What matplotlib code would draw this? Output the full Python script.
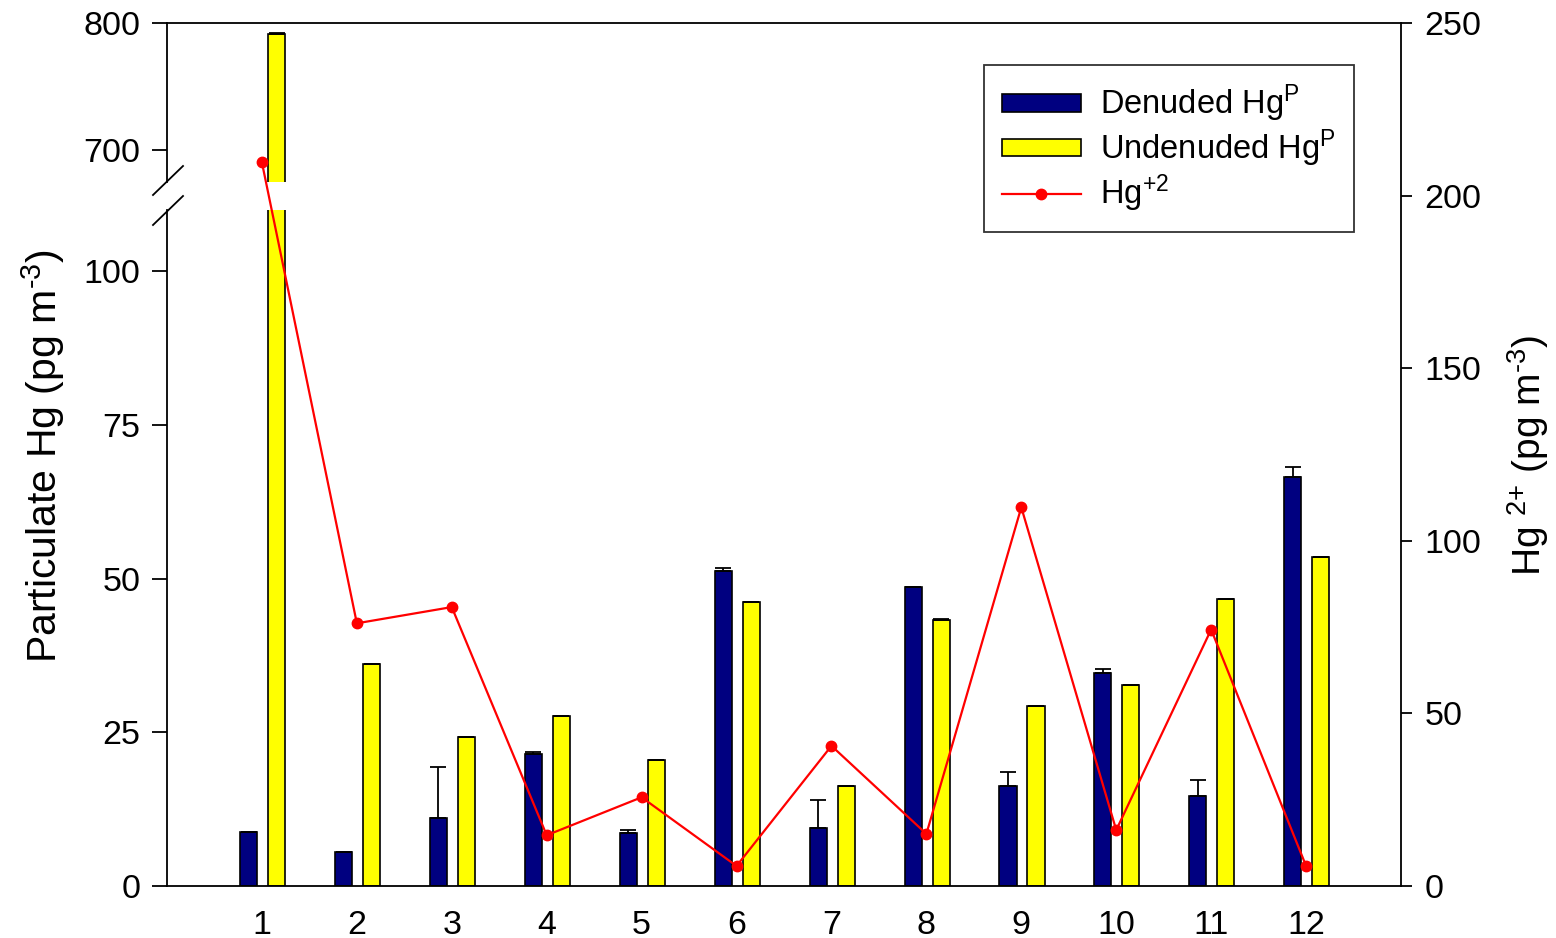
import matplotlib
matplotlib.use("Agg")
import matplotlib.pyplot as plt
import numpy as np
from matplotlib.lines import Line2D

plt.rcParams['font.family'] = ['Liberation Sans', 'DejaVu Sans']
plt.rcParams['mathtext.fontset'] = 'custom'
plt.rcParams['mathtext.rm'] = 'Liberation Sans'
plt.rcParams['mathtext.default'] = 'regular'

# monthly samples
samples = [1, 2, 3, 4, 5, 6, 7, 8, 9, 10, 11, 12]
denuded = [8.8, 5.6, 11.0, 21.5, 8.6, 51.3, 9.4, 48.6, 16.3, 34.6, 14.7, 66.6]
denuded_err = [0, 0, 8.3, 0.3, 0.5, 0.4, 4.6, 0, 2.2, 0.7, 2.6, 1.5]
undenuded = [791.5, 36.2, 24.2, 27.7, 20.5, 46.2, 16.3, 43.3, 29.3, 32.7, 46.7, 53.5]
undenuded_err = [0.6, 0, 0, 0, 0, 0, 0, 0.2, 0, 0, 0, 0]
hg2 = [209.6, 76.1, 80.8, 14.7, 25.7, 5.8, 40.6, 15.1, 109.7, 16.2, 74.3, 5.8]

W, H = 1556, 938
fig = plt.figure(figsize=(W / 100, H / 100), dpi=100)

def fx(px):
    return px / W

def fy(py):
    return 1 - py / H

left, right = 167, 1401
top, brk_hi, brk_lo, bottom = 23, 182, 210, 886

ax_lo = fig.add_axes([fx(left), fy(bottom), fx(right - left), (bottom - brk_lo) / H])
ax_hi = fig.add_axes([fx(left), fy(brk_hi), fx(right - left), (brk_hi - top) / H])
ax_r = fig.add_axes([fx(left), fy(bottom), fx(right - left), (bottom - top) / H])

x = np.array(samples, dtype=float)
bw = 0.18
navy = '#000080'
yellow = '#FFFF00'
tick_fs = 24.5

for ax in (ax_lo, ax_hi):
    ax.bar(x - 0.14, denuded, width=bw, color=navy, edgecolor='black', linewidth=1.2,
           yerr=[np.zeros(len(x)), denuded_err], error_kw=dict(capsize=5.5, elinewidth=1.3, capthick=1.3, ecolor='black'))
    ax.bar(x + 0.155, undenuded, width=bw, color=yellow, edgecolor='black', linewidth=1.2,
           yerr=[np.zeros(len(x)), undenuded_err], error_kw=dict(capsize=5.5, elinewidth=1.3, capthick=1.3, ecolor='black'))
    ax.set_xlim(0, 13)
    ax.spines['right'].set_visible(False)
    ax.tick_params(axis='y', direction='out', length=11, width=1.3, labelsize=tick_fs, pad=8)
    for s in ax.spines.values():
        s.set_linewidth(1.3)

ax_lo.set_ylim(0, 110)
ax_lo.set_yticks([0, 25, 50, 75, 100])
ax_lo.spines['top'].set_visible(False)
ax_lo.set_xticks(samples)
ax_lo.set_xticklabels([str(s) for s in samples])
ax_lo.tick_params(axis='x', length=0, labelsize=tick_fs, pad=17)

ax_hi.set_ylim(675, 800)
ax_hi.set_yticks([700, 800])
ax_hi.spines['bottom'].set_visible(False)
ax_hi.set_xticks([])

# right axis for Hg2+
ax_r.patch.set_visible(False)
ax_r.plot(x, hg2, color='red', linewidth=1.6, marker='o', markersize=7.5, zorder=5)
ax_r.set_xlim(0, 13)
ax_r.set_ylim(0, 250)
ax_r.set_xticks([])
ax_r.yaxis.tick_right()
ax_r.yaxis.set_label_position('right')
ax_r.set_yticks([0, 50, 100, 150, 200, 250])
ax_r.tick_params(axis='y', direction='out', length=8, width=1.3, labelsize=tick_fs, pad=9)
for side in ('left', 'top', 'bottom'):
    ax_r.spines[side].set_visible(False)
ax_r.spines['right'].set_linewidth(1.3)

# break marks on the left axis
for y0 in (195, 225):
    fig.add_artist(Line2D([fx(153), fx(183)], [fy(y0), fy(y0 - 29)], color='black', linewidth=1.3))

fig.text(fx(43), fy(456), 'Particulate Hg (pg m$^{\\text{-3}}$)', rotation=90, fontsize=29.5,
         ha='center', va='center')
fig.text(fx(1528), fy(455), 'Hg $^{\\text{2+}}$ (pg m$^{\\text{-3}}$)', rotation=90, fontsize=28,
         ha='center', va='center')

handles = [
    plt.Rectangle((0, 0), 1, 1, facecolor=navy, edgecolor='black', linewidth=1.2),
    plt.Rectangle((0, 0), 1, 1, facecolor=yellow, edgecolor='black', linewidth=1.2),
    Line2D([], [], color='red', linewidth=1.6, marker='o', markersize=7.5),
]
labels = ['Denuded Hg$^{P}$', 'Undenuded Hg$^{P}$', 'Hg$^{\\text{+2}}$']
leg = fig.legend(handles, labels, loc='upper right', bbox_to_anchor=(fx(1354), fy(65)),
                 fontsize=23.5, frameon=True, fancybox=False, edgecolor='black',
                 handlelength=2.4, handleheight=0.45, handletextpad=0.6,
                 labelspacing=0.1, borderpad=0.55, borderaxespad=0)
leg.get_frame().set_linewidth(1.3)

fig.savefig('out.png', dpi=100)
